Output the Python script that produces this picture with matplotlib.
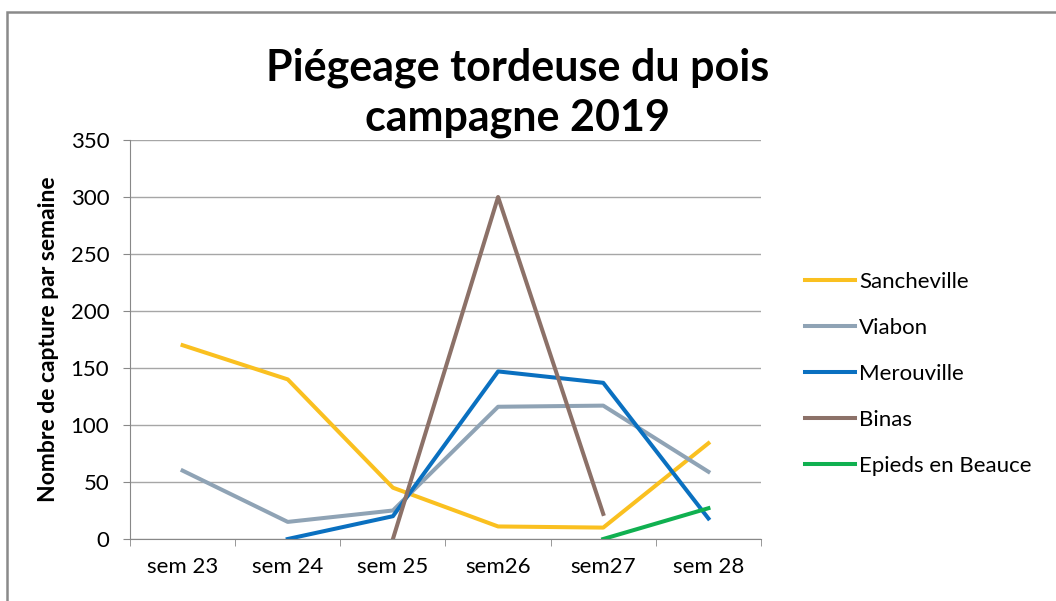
import matplotlib
matplotlib.use("Agg")
import matplotlib.pyplot as plt
import numpy as np

semaines = ["sem 23", "sem 24", "sem 25", "sem26", "sem27", "sem 28"]
sancheville = [170, 140, 45, 11, 10, 84]
viabon = [60, 15, 25, 116, 117, 59]
merouville = [None, 0, 20, 147, 137, 18]
binas = [None, None, 0, 300, 22, None]
epieds = [None, None, None, None, 0, 27]

series = [
    ("Sancheville", sancheville, "#FAC020"),
    ("Viabon", viabon, "#8FA3B5"),
    ("Merouville", merouville, "#0A70C0"),
    ("Binas", binas, "#8C7168"),
    ("Epieds en Beauce", epieds, "#10B050"),
]

plt.rcParams["font.family"] = ["Lato", "DejaVu Sans"]

fig = plt.figure(figsize=(10.56, 6.01), dpi=100)
ax = fig.add_axes([130 / 1056, 62 / 601, 631 / 1056, 399 / 601])

x = np.arange(len(semaines))
for nom, vals, couleur in series:
    y = np.array([np.nan if v is None else v for v in vals], dtype=float)
    ax.plot(x, y, color=couleur, linewidth=2.9, label=nom)

ax.set_xlim(-0.5, len(semaines) - 0.5)
ax.set_ylim(0, 350)
ax.set_yticks(range(0, 351, 50))
ax.set_xticks(x)
ax.set_xticklabels(semaines, fontsize=16)
ax.set_xticks(np.arange(-0.5, len(semaines), 1), minor=True)
ax.tick_params(axis="x", which="major", length=0, pad=13)
ax.tick_params(axis="x", which="minor", length=5, color="#888888")
ax.tick_params(axis="y", length=5, color="#888888", labelsize=16, pad=10)
ax.grid(axis="y", color="#a6a6a6", linewidth=1)
ax.set_axisbelow(True)
for s in ["top", "right"]:
    ax.spines[s].set_visible(False)
for s in ["left", "bottom"]:
    ax.spines[s].set_color("#888888")
ax.set_ylabel("Nombre de capture par semaine", fontsize=16.5, fontweight="bold", labelpad=8)

leg = ax.legend(loc="center left", bbox_to_anchor=(1.038, 0.414), frameon=False,
                fontsize=16, handlelength=2.25, handletextpad=0.2, labelspacing=1.17)

fig.text(0.49, 1 - 80 / 601, "Piégeage tordeuse du pois", ha="center", va="baseline",
         fontsize=31, fontweight="bold")
fig.text(0.49, 1 - 130 / 601, "campagne 2019", ha="center", va="baseline",
         fontsize=31, fontweight="bold")

# cadre du graphique
fig.patches.append(plt.Rectangle((7 / 1056, -0.1), 1.2, (601 - 12) / 601 + 0.1,
                                 transform=fig.transFigure, fill=False,
                                 edgecolor="#8a8a8a", linewidth=1.8))

fig.savefig("out.png", dpi=100)
